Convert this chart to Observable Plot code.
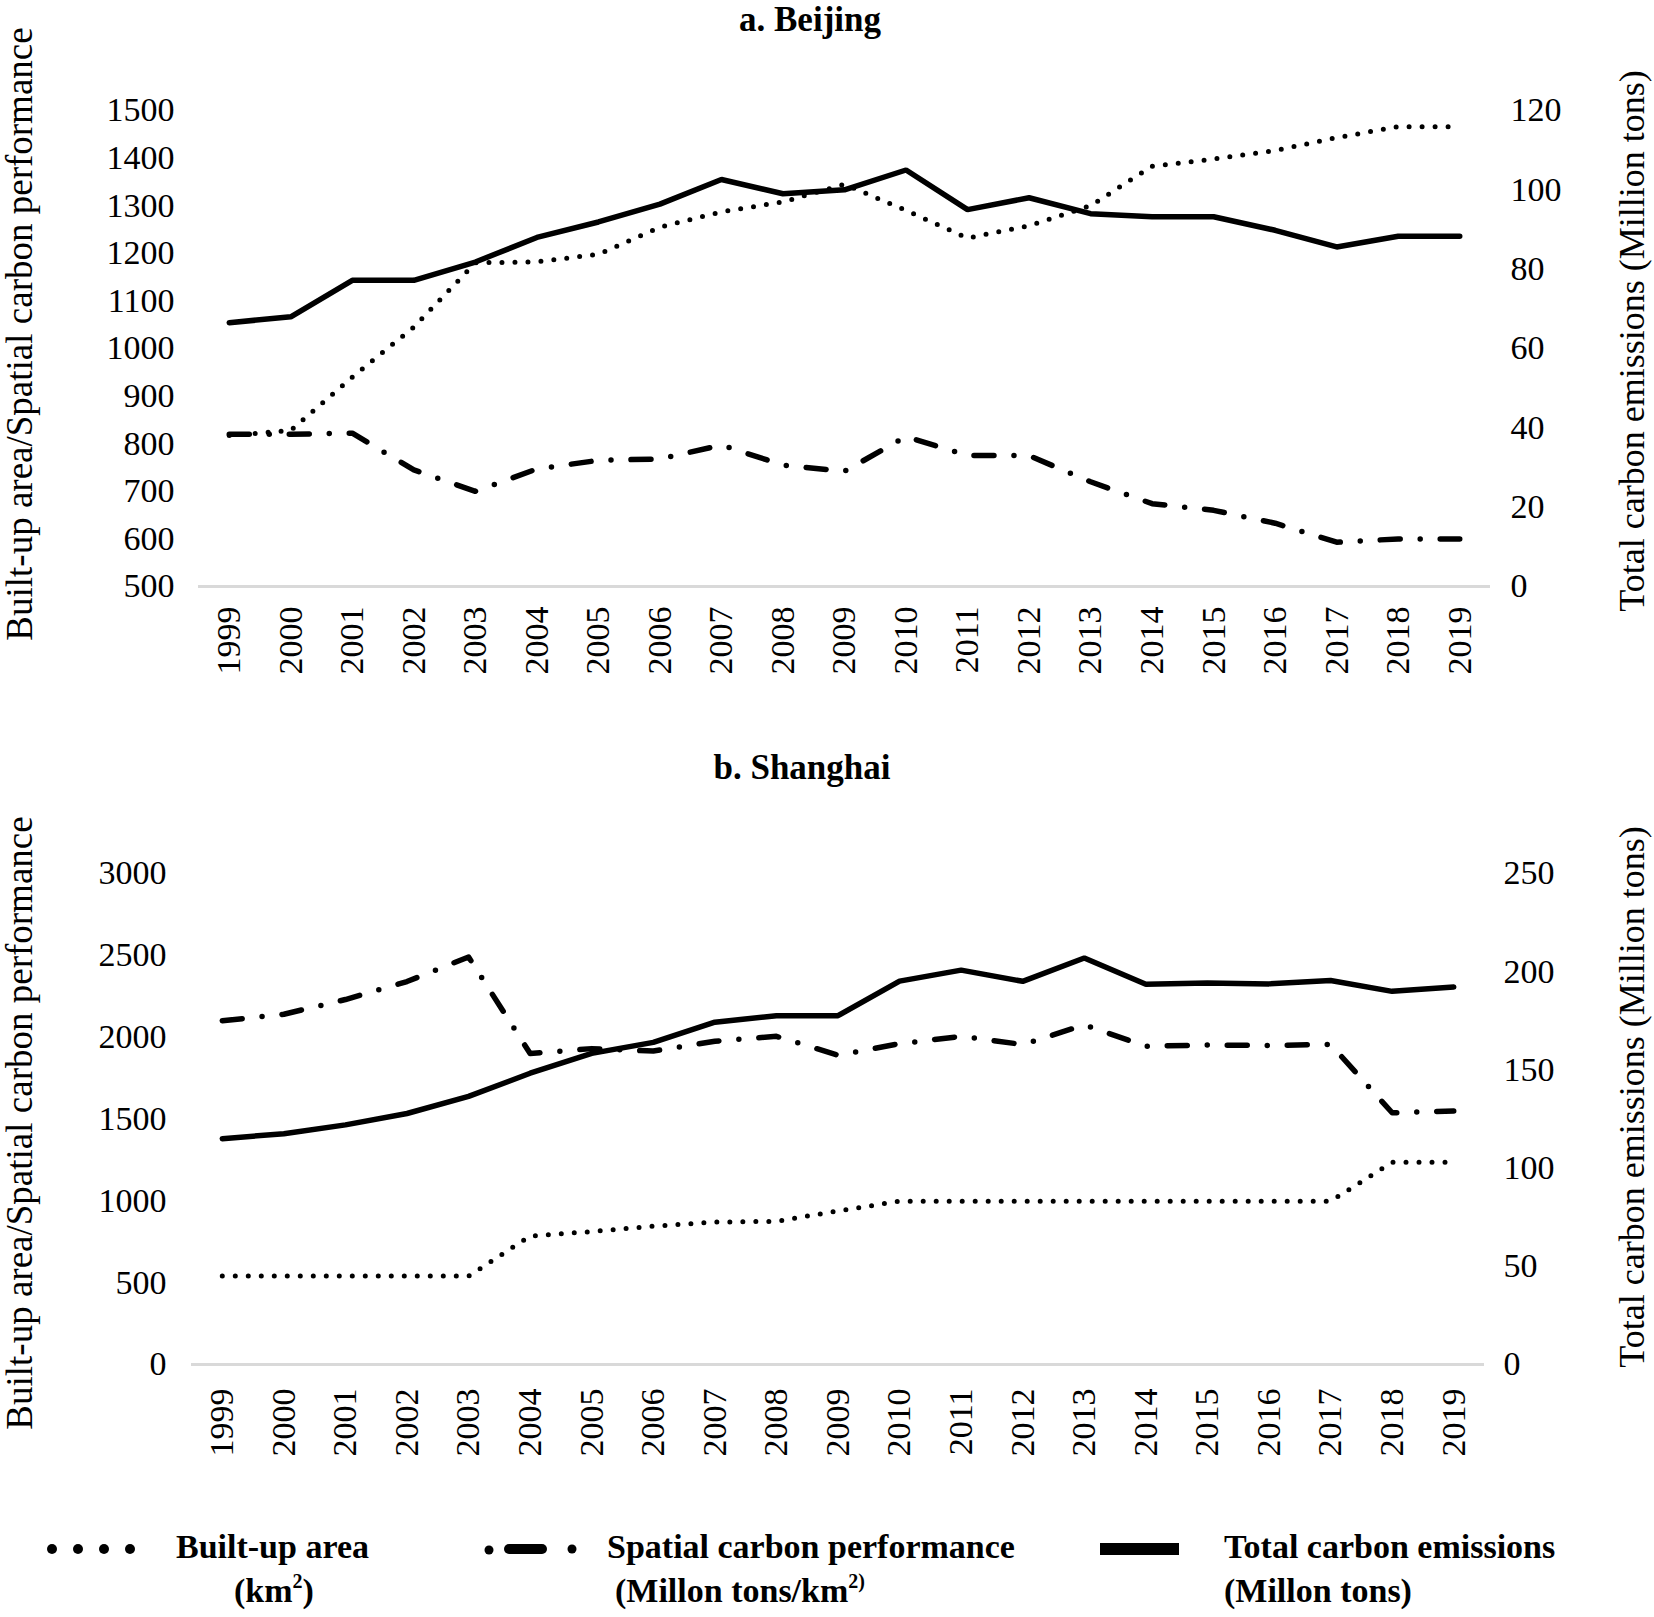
<!DOCTYPE html>
<html>
<head>
<meta charset="utf-8">
<script src="https://cdn.jsdelivr.net/npm/d3@7"></script>
<script src="https://cdn.jsdelivr.net/npm/@observablehq/plot@0.6"></script>
<style>
  html, body { margin: 0; padding: 0; background: #fff; }
  #page { position: relative; width: 1654px; height: 1617px; overflow: hidden; background: #fff;
          font-family: "Liberation Serif", "Times New Roman", serif; color: #000; }
  .abs { position: absolute; white-space: nowrap; }
  .title { font-weight: bold; font-size: 35px; line-height: 40px; transform: translateX(-50%); }
  .vt { font-size: 36px; line-height: 36px; transform: translate(-50%, -50%) rotate(-90deg); }
  .vtl { font-size: 37px; }
  .leg { font-weight: bold; font-size: 34px; line-height: 34px; }
  .leg sup { font-size: 20px; vertical-align: 14px; line-height: 0; }
  svg.plot { position: absolute; left: 0; }
</style>
</head>
<body>
<div id="page"></div>
<script>
// ---------- data ----------
const years = [1999, 2000, 2001, 2002, 2003, 2004, 2005, 2006, 2007, 2008, 2009,
               2010, 2011, 2012, 2013, 2014, 2015, 2016, 2017, 2018, 2019];

// a. Beijing
const bjBuiltUp = [817, 828, 940, 1045, 1180, 1182, 1198, 1255, 1287, 1308, 1345,
                   1290, 1232, 1258, 1300, 1383, 1398, 1416, 1443, 1466, 1466];
const bjSpatial = [820, 820, 822, 745, 700, 747, 765, 768, 797, 755, 742,
                   815, 775, 775, 720, 674, 660, 633, 593, 600, 600];
const bjTotal = [66.5, 68, 77.2, 77.2, 81.8, 88, 91.9, 96.4, 102.6, 99, 100,
                 105, 95, 98, 94, 93.2, 93.2, 89.8, 85.6, 88.3, 88.3];
const bjLeftTicks = [500, 600, 700, 800, 900, 1000, 1100, 1200, 1300, 1400, 1500];
const bjRightTicks = [0, 20, 40, 60, 80, 100, 120];

// b. Shanghai
const shBuiltUp = [540, 540, 540, 540, 540, 785, 812, 845, 870, 875, 938,
                   998, 998, 998, 998, 998, 998, 998, 998, 1235, 1235];
const shSpatial = [2100, 2140, 2230, 2340, 2490, 1900, 1930, 1915, 1975, 2005, 1890,
                   1960, 2005, 1955, 2075, 1945, 1952, 1949, 1956, 1538, 1549];
const shTotal = [115, 117.5, 122, 127.8, 136.5, 148.3, 158.4, 164, 174.3, 177.6, 177.6,
                 195.2, 200.8, 195.1, 207, 193.6, 194.2, 193.8, 195.5, 190, 192.2];
const shLeftTicks = [0, 500, 1000, 1500, 2000, 2500, 3000];
const shRightTicks = [0, 50, 100, 150, 200, 250];

const seriesNames = ["Built-up area", "Spatial carbon performance", "Total carbon emissions"];
const panelTitles = ["a. Beijing", "b. Shanghai"];
const leftAxisTitle = "Built-up area/Spatial carbon performance";
const rightAxisTitle = "Total carbon emissions (Million tons)";

// ---------- drawing ----------
const page = document.getElementById("page");
const FONT = "'Liberation Serif', 'Times New Roman', serif";

function panel(cfg) {
  const {builtUp, spatial, total, yDomain, rMax, leftTicks, rightTicks, m, height, top} = cfg;
  const k = (yDomain[1] - yDomain[0]) / rMax;           // right-axis -> left-axis units
  const toLeft = r => yDomain[0] + r * k;
  const rows = years.map((year, i) => ({year, b: builtUp[i], s: spatial[i], t: total[i]}));
  const svg = Plot.plot({
    width: 1654,
    height,
    marginTop: m.top, marginBottom: m.bottom, marginLeft: m.left, marginRight: m.right,
    style: {fontFamily: FONT, fontSize: "34px", color: "#000", background: "transparent", overflow: "visible"},
    x: {domain: [1998.5, 2019.5]},
    y: {domain: yDomain},
    marks: [
      Plot.ruleY([yDomain[0]], {stroke: "#d9d9d9", strokeWidth: 3}),
      Plot.axisX(years, {anchor: "bottom", tickSize: 0, tickPadding: m.xPad, tickRotate: -90,
                         tickFormat: d => String(d), label: null, fontSize: 34}),
      Plot.axisY(leftTicks, {anchor: "left", tickSize: 0, tickPadding: m.lPad,
                             tickFormat: d => String(d), label: null, fontSize: 34}),
      Plot.axisY(rightTicks.map(toLeft), {anchor: "right", tickSize: 0, tickPadding: m.rPad,
                             tickFormat: d => String(Math.round((d - yDomain[0]) / k)), label: null, fontSize: 34}),
      Plot.line(rows, {x: "year", y: "b", stroke: "#000", strokeWidth: 5,
                       strokeDasharray: "0,13", strokeLinecap: "round", strokeLinejoin: "round"}),
      Plot.line(rows, {x: "year", y: "s", stroke: "#000", strokeWidth: 5.5,
                       strokeDasharray: "20,20,0,20", strokeLinecap: "round", strokeLinejoin: "round"}),
      Plot.line(rows, {x: "year", y: d => toLeft(d.t), stroke: "#000", strokeWidth: 5.5,
                       strokeLinejoin: "miter"})
    ]
  });
  svg.style.top = top + "px";
  svg.classList.add("plot");
  page.appendChild(svg);
}

panel({builtUp: bjBuiltUp, spatial: bjSpatial, total: bjTotal, yDomain: [500, 1500], rMax: 120,
       leftTicks: bjLeftTicks, rightTicks: bjRightTicks, height: 700, top: 0,
       m: {top: 110, bottom: 114, left: 198, right: 164, xPad: 20, lPad: 24, rPad: 20}});
panel({builtUp: shBuiltUp, spatial: shSpatial, total: shTotal, yDomain: [0, 3000], rMax: 250,
       leftTicks: shLeftTicks, rightTicks: shRightTicks, height: 800, top: 700,
       m: {top: 173, bottom: 136, left: 191, right: 170, xPad: 24, lPad: 25, rPad: 19}});

function addText(cls, text, x, y, html) {
  const d = document.createElement("div");
  d.className = "abs " + cls;
  if (html) d.innerHTML = text; else d.textContent = text;
  d.style.left = x + "px";
  d.style.top = y + "px";
  page.appendChild(d);
  return d;
}

// panel titles
addText("title", panelTitles[0], 810, 0);
addText("title", panelTitles[1], 802, 748);
// axis titles
addText("vt vtl", leftAxisTitle, 20, 334);
addText("vt", rightAxisTitle, 1632, 341);
addText("vt vtl", leftAxisTitle, 20, 1123);
addText("vt", rightAxisTitle, 1632, 1097);

// legend
const legY1 = 1549, legY2 = 1593;
addText("leg", seriesNames[0], 176, legY1 - 19);
addText("leg", "(km<sup>2</sup>)", 234, legY2 - 19, true);
addText("leg", seriesNames[1], 607, legY1 - 19);
addText("leg", "(Millon tons/km<sup>2)</sup>", 615, legY2 - 19, true);
addText("leg", seriesNames[2], 1224, legY1 - 19);
addText("leg", "(Millon tons)", 1224, legY2 - 19);

const ns = "http://www.w3.org/2000/svg";
const sw = document.createElementNS(ns, "svg");
sw.setAttribute("width", 1654); sw.setAttribute("height", 40);
sw.style.position = "absolute"; sw.style.left = "0px"; sw.style.top = (legY1 - 20) + "px";
function el(tag, attrs) { const e = document.createElementNS(ns, tag); for (const a in attrs) e.setAttribute(a, attrs[a]); sw.appendChild(e); }
[52, 78, 104, 130].forEach(cx => el("circle", {cx, cy: 20, r: 5, fill: "#000"}));
el("circle", {cx: 489, cy: 21, r: 4.5, fill: "#000"});
el("line", {x1: 509, x2: 542, y1: 20, y2: 20, stroke: "#000", "stroke-width": 10, "stroke-linecap": "round"});
el("circle", {cx: 572, cy: 20, r: 4.5, fill: "#000"});
el("rect", {x: 1100, y: 14, width: 79, height: 12, fill: "#000"});
page.appendChild(sw);
</script>
</body>
</html>
